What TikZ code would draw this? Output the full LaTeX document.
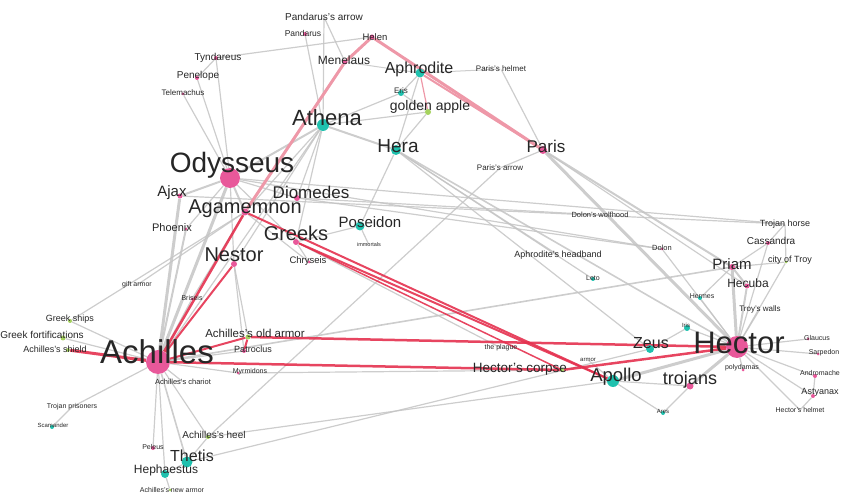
\documentclass[tikz,border=0pt]{standalone}
\usepackage{fontspec}
\setmainfont{Liberation Sans}
\usetikzlibrary{backgrounds}
\definecolor{pinkdot}{HTML}{E8589A}
\definecolor{cyandot}{HTML}{1FC1AE}
\definecolor{greendot}{HTML}{A5D25E}
\definecolor{graylink}{HTML}{C4C4C4}
\definecolor{redlink}{HTML}{E4314F}
\definecolor{rosylink}{HTML}{EE98A8}
\newcommand{\fsz}[1]{\fontsize{#1}{#1}\selectfont}
\tikzset{
	pk/.style={circle, fill=pinkdot, inner sep=0pt, minimum size=#1},
	cy/.style={circle, fill=cyandot, inner sep=0pt, minimum size=#1},
	gn/.style={circle, fill=greendot, inner sep=0pt, minimum size=#1},
	bare/.style={circle, inner sep=0pt, minimum size=1pt},
	lbl/.style={text=black!85, inner sep=0pt, font=\fsz{#1}},
	gl/.style={draw=graylink, line width=#1, opacity=.85},
	gl/.default=1.2,
	rl/.style={draw=redlink, line width=#1, opacity=.9},
	rl/.default=2,
	pl/.style={draw=rosylink, line width=#1},
	pl/.default=3
}
\begin{document}
\begin{tikzpicture}[x=1pt, y=-1pt]
	\useasboundingbox (0,0) rectangle (841,494);
	% dots and their labels
	\node[bare] (parr) at (324,17) {};
	\node[lbl=10] (parr-t) at (324,17) {Pandarus's arrow};
	\node[pk=4] (pan) at (305,34) {};
	\node[lbl=8.5] (pan-t) at (303,33) {Pandarus};
	\node[pk=5] (hel) at (372,37) {};
	\node[lbl=9.5] (hel-t) at (375,37) {Helen};
	\node[pk=4] (tyn) at (216,58) {};
	\node[lbl=10] (tyn-t) at (218,58) {Tyndareus};
	\node[pk=5] (men) at (345,62) {};
	\node[lbl=12] (men-t) at (344,60) {Menelaus};
	\node[cy=9] (aph) at (420,73) {};
	\node[lbl=16] (aph-t) at (419,69) {Aphrodite};
	\node[bare] (phel) at (501,69) {};
	\node[lbl=8] (phel-t) at (501,69) {Paris's helmet};
	\node[pk=4] (pen) at (197,78) {};
	\node[lbl=10] (pen-t) at (198,76) {Penelope};
	\node[pk=3] (tel) at (183,94) {};
	\node[lbl=8] (tel-t) at (183,93) {Telemachus};
	\node[cy=6] (eri) at (401,93) {};
	\node[lbl=8] (eri-t) at (401,91) {Eris};
	\node[gn=6] (gap) at (428,112) {};
	\node[lbl=14] (gap-t) at (430,107) {golden apple};
	\node[cy=12] (ath) at (323,125) {};
	\node[lbl=22] (ath-t) at (327,118) {Athena};
	\node[cy=10] (her) at (396,150) {};
	\node[lbl=19] (her-t) at (398,146) {Hera};
	\node[pk=8] (par) at (543,150) {};
	\node[lbl=17] (par-t) at (546,146) {Paris};
	\node[bare] (parw) at (500,168) {};
	\node[lbl=8] (parw-t) at (500,168) {Paris's arrow};
	\node[pk=20] (ody) at (230,178) {};
	\node[lbl=28] (ody-t) at (232,165) {Odysseus};
	\node[pk=5] (aja) at (180,196) {};
	\node[lbl=15] (aja-t) at (172,193) {Ajax};
	\node[pk=6] (dio) at (297,198) {};
	\node[lbl=17] (dio-t) at (311,192) {Diomedes};
	\node[pk=7] (aga) at (245,212) {};
	\node[lbl=20] (aga-t) at (245,209) {Agamemnon};
	\node[pk=3] (pho) at (186,229) {};
	\node[lbl=11] (pho-t) at (172,228) {Phoenix};
	\node[cy=9] (pos) at (360,226) {};
	\node[lbl=15] (pos-t) at (370,222) {Poseidon};
	\node[pk=6] (gre) at (296,242) {};
	\node[lbl=20] (gre-t) at (296,233) {Greeks};
	\node[bare] (imm) at (369,245) {};
	\node[lbl=5.5] (imm-t) at (369,245) {immortals};
	\node[pk=6] (nes) at (234,264) {};
	\node[lbl=20] (nes-t) at (234,255) {Nestor};
	\node[pk=3] (chr) at (309,262) {};
	\node[lbl=9.5] (chr-t) at (308,261) {Chryseis};
	\node[bare] (dwh) at (600,215) {};
	\node[lbl=7.5] (dwh-t) at (600,215) {Dolon's wolfhood};
	\node[bare] (ahb) at (558,255) {};
	\node[lbl=9] (ahb-t) at (558,255) {Aphrodite's headband};
	\node[pk=3] (dol) at (662,249) {};
	\node[lbl=7.5] (dol-t) at (662,248) {Dolon};
	\node[cy=4] (let) at (593,279) {};
	\node[lbl=7] (let-t) at (593,278) {Leto};
	\node[bare] (tho) at (785,224) {};
	\node[lbl=9] (tho-t) at (785,224) {Trojan horse};
	\node[pk=4] (cas) at (768,243) {};
	\node[lbl=10] (cas-t) at (771,241) {Cassandra};
	\node[gn=3] (cot) at (786,262) {};
	\node[lbl=9] (cot-t) at (790,260) {city of Troy};
	\node[pk=6] (pri) at (732,267) {};
	\node[lbl=15] (pri-t) at (732,264) {Priam};
	\node[pk=5] (hcb) at (747,286) {};
	\node[lbl=12] (hcb-t) at (748,283) {Hecuba};
	\node[bare] (twl) at (760,309) {};
	\node[lbl=8] (twl-t) at (760,309) {Troy's walls};
	\node[cy=4] (hrm) at (700,298) {};
	\node[lbl=7] (hrm-t) at (702,296) {Hermes};
	\node[cy=6] (iri) at (687,328) {};
	\node[lbl=6] (iri-t) at (686,325) {Iris};
	\node[pk=22] (hec) at (737,347) {};
	\node[lbl=31] (hec-t) at (739,343) {Hector};
	\node[cy=8] (zeu) at (650,349) {};
	\node[lbl=16] (zeu-t) at (651,343) {Zeus};
	\node[pk=3] (gla) at (808,339) {};
	\node[lbl=7] (gla-t) at (817,338) {Glaucus};
	\node[pk=3] (sar) at (818,354) {};
	\node[lbl=7] (sar-t) at (824,353) {Sarpedon};
	\node[pk=4] (and) at (815,376) {};
	\node[lbl=7] (and-t) at (820,373) {Andromache};
	\node[pk=4] (ast) at (813,396) {};
	\node[lbl=9] (ast-t) at (820,392) {Astyanax};
	\node[bare] (hhl) at (800,410) {};
	\node[lbl=7] (hhl-t) at (800,410) {Hector's helmet};
	\node[pk=3] (pol) at (743,370) {};
	\node[lbl=7] (pol-t) at (742,368) {polydamas};
	\node[pk=7] (tro) at (690,386) {};
	\node[lbl=18] (tro-t) at (690,380) {trojans};
	\node[cy=12] (apo) at (613,381) {};
	\node[lbl=18.5] (apo-t) at (616,377) {Apollo};
	\node[gn=4] (hco) at (562,370) {};
	\node[lbl=13.5] (hco-t) at (520,369) {Hector's corpse};
	\node[bare] (pla) at (501,348) {};
	\node[lbl=7] (pla-t) at (501,348) {the plague};
	\node[bare] (arm) at (588,360) {};
	\node[lbl=6] (arm-t) at (588,360) {armor};
	\node[cy=4] (are) at (663,413) {};
	\node[lbl=6] (are-t) at (663,411) {Ares};
	\node[pk=24] (ach) at (158,362) {};
	\node[lbl=33] (ach-t) at (157,352) {Achilles};
	\node[gn=5] (oar) at (248,337) {};
	\node[lbl=11.5] (oar-t) at (255,333) {Achilles's old armor};
	\node[pk=4] (pat) at (244,351) {};
	\node[lbl=9] (pat-t) at (253,349) {Patroclus};
	\node[pk=3] (myr) at (238,373) {};
	\node[lbl=7] (myr-t) at (250,372) {Myrmidons};
	\node[bare] (cha) at (183,382) {};
	\node[lbl=7.5] (cha-t) at (183,382) {Achilles's chariot};
	\node[gn=4] (shd) at (68,350) {};
	\node[lbl=9] (shd-t) at (55,349) {Achilles's shield};
	\node[gn=5] (gfo) at (63,338) {};
	\node[lbl=10] (gfo-t) at (42,335) {Greek fortifications};
	\node[gn=4] (gsh) at (70,321) {};
	\node[lbl=9] (gsh-t) at (70,319) {Greek ships};
	\node[bare] (gar) at (137,285) {};
	\node[lbl=7] (gar-t) at (137,285) {gift armor};
	\node[pk=3] (bri) at (192,299) {};
	\node[lbl=7] (bri-t) at (192,298) {Briseis};
	\node[bare] (tpr) at (72,407) {};
	\node[lbl=7] (tpr-t) at (72,407) {Trojan prisoners};
	\node[cy=4] (sca) at (52,427) {};
	\node[lbl=6] (sca-t) at (53,425) {Scamander};
	\node[gn=4] (hee) at (208,437) {};
	\node[lbl=10] (hee-t) at (214,435) {Achilles's heel};
	\node[pk=4] (pel) at (153,448) {};
	\node[lbl=7] (pel-t) at (153,447) {Peleus};
	\node[cy=11] (the) at (187,462) {};
	\node[lbl=16] (the-t) at (192,456) {Thetis};
	\node[cy=8] (hep) at (165,474) {};
	\node[lbl=12] (hep-t) at (166,470) {Hephaestus};
	\node[gn=3] (nar) at (170,490) {};
	\node[lbl=7] (nar-t) at (172,490) {Achilles's new armor};
	% links
	\begin{scope}[on background layer]
		\draw[gl] (parr) to (men);
		\draw[gl] (parr) to (ath);
		\draw[gl] (pan) to (ath);
		\draw[gl] (hel) to (tyn);
		\draw[gl=1] (men) to (aph);
		\draw[gl=1] (aph) to (phel);
		\draw[gl] (phel) to (par);
		\draw[gl] (aph) to (eri);
		\draw[gl] (eri) to (gap);
		\draw[gl] (ath) to (eri);
		\draw[gl] (ath) to (gap);
		\draw[gl] (her) to (gap);
		\draw[gl] (her) to (aph);
		\draw[gl] (tyn) to (ody);
		\draw[gl] (tyn) to (pen);
		\draw[gl] (pen) to (ody);
		\draw[gl] (tel) to (ody);
		\draw[gl=2] (ath) to (ody);
		\draw[gl=2] (ath) to (her);
		\draw[gl] (ath) to (dio);
		\draw[gl] (ath) to (ach);
		\draw[gl] (ath) to (aga);
		\draw[gl] (ath) to (gre);
		\draw[gl] (ath) to (nes);
		\draw[gl=1.6] (her) to (hec);
		\draw[gl] (her) to (pos);
		\draw[gl] (her) to (zeu);
		\draw[gl] (her) to (ahb);
		\draw[gl] (her) to (let);
		\draw[gl] (ody) to (dio);
		\draw[gl] (ody) to (tho);
		\draw[gl] (ody) to (dol);
		\draw[gl] (dio) to (dol);
		\draw[gl] (dio) to (dwh);
		\draw[gl=2] (ody) to (aja);
		\draw[gl=2] (ody) to (aga);
		\draw[gl] (ody) to (pho);
		\draw[gl=3] (ody) to (ach);
		\draw[gl] (ody) to (nes);
		\draw[gl] (ody) to (gre);
		\draw[gl=2] (par) to (pri);
		\draw[gl=3] (par) to (hec);
		\draw[gl] (par) to (hcb);
		\draw[gl] (par) to (parw);
		\draw[gl] (parw) to (hee);
		\draw[gl] (pri) to (cas);
		\draw[gl=2] (pri) to (hcb);
		\draw[gl=3] (pri) to (hec);
		\draw[gl] (pri) to (cot);
		\draw[gl] (cas) to (tho);
		\draw[gl] (tho) to (cot);
		\draw[gl] (twl) to (hec);
		\draw[gl=2] (hcb) to (hec);
		\draw[gl] (cot) to (hec);
		\draw[gl] (cas) to (hec);
		\draw[gl=1.6] (pri) to (ach);
		\draw[gl] (hrm) to (pri);
		\draw[gl] (hrm) to (hec);
		\draw[gl] (dol) to (hec);
		\draw[gl] (hec) to (gla);
		\draw[gl] (hec) to (sar);
		\draw[gl] (hec) to (and);
		\draw[gl] (hec) to (ast);
		\draw[gl] (hec) to (hhl);
		\draw[gl] (hec) to (pol);
		\draw[gl=3] (hec) to (tro);
		\draw[gl=3] (hec) to (apo);
		\draw[gl] (hec) to (iri);
		\draw[gl] (and) to (ast);
		\draw[gl] (ast) to (hhl);
		\draw[gl] (apo) to (tro);
		\draw[gl] (apo) to (are);
		\draw[gl] (tro) to (are);
		\draw[gl] (zeu) to (iri);
		\draw[gl] (the) to (zeu);
		\draw[gl] (the) to (hee);
		\draw[gl] (the) to (hep);
		\draw[gl] (hep) to (nar);
		\draw[gl=1.6] (ach) to (the);
		\draw[gl] (ach) to (pel);
		\draw[gl] (ach) to (hep);
		\draw[gl] (ach) to (hee);
		\draw[gl] (ach) to (cha);
		\draw[gl] (ach) to (myr);
		\draw[gl] (ach) to (gsh);
		\draw[gl] (ach) to (gfo);
		\draw[gl] (ach) to (tpr);
		\draw[gl] (ach) to (bri);
		\draw[gl=3] (ach) to (aja);
		\draw[gl=2] (ach) to (pho);
		\draw[gl] (ach) to (pat);
		\draw[gl] (gar) to (aga);
		\draw[gl] (gsh) to (aga);
		\draw[gl] (tpr) to (sca);
		\draw[gl] (gre) to (pos);
		\draw[gl] (gre) to (chr);
		\draw[gl] (aga) to (chr);
		\draw[gl] (pos) to (imm);
		\draw[gl] (aga) to (bri);
		\draw[gl] (nes) to (pat);
		\draw[gl] (nes) to (oar);
		\draw[gl] (myr) to (hco);
		\draw[gl] (gre) to (pla);
		\draw[gl] (apo) to (hee);
		\draw[gl] (aja) to (tho);
		\draw[gl] (apo) to (arm);
		% strong links
		\draw[pl] (hel) to (men);
		\draw[pl] (men) to (aga);
		\draw[pl] (hel) to (par);
		\draw[pl=2] (aph) to (par);
		\draw[pl=1.2] (aph) to (gap);
		\draw[rl=2.5] (aga) to (ach);
		\draw[rl] (nes) to (ach);
		\draw[rl] (gre) to (apo);
		\draw[rl] (aga) to (apo);
		\draw[rl=1.5] (gre) to (hco);
		\draw[rl=2.5] (oar) to (hec);
		\draw[rl=2.5] (ach) to (hco);
		\draw[rl=2.5] (hco) to (hec);
		\draw[rl] (ach) to (oar);
		\draw[rl] (pat) to (oar);
		\draw[rl=3] (ach) to (shd);
	\end{scope}
\end{tikzpicture}
\end{document}
